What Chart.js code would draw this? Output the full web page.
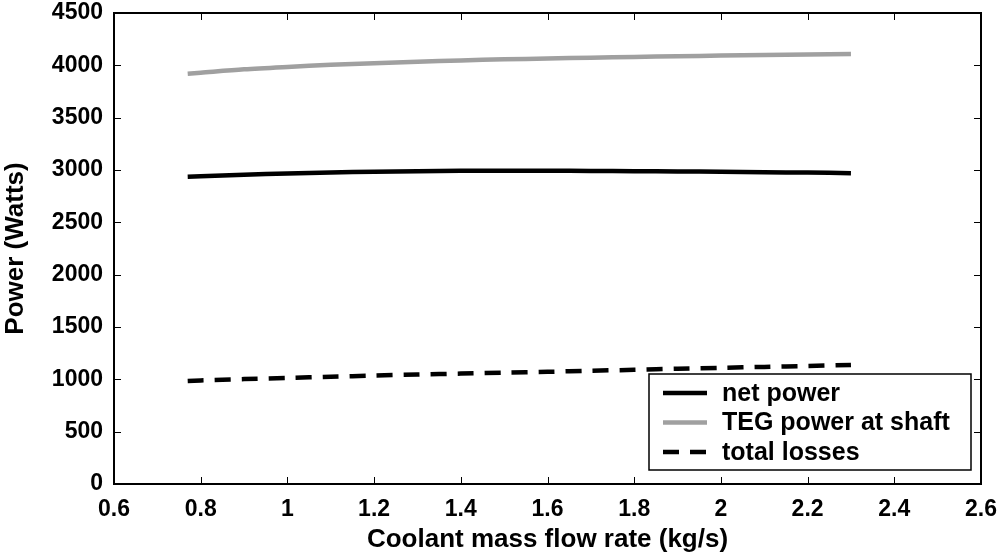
<!DOCTYPE html>
<html>
<head>
<meta charset="utf-8">
<script src="https://cdn.jsdelivr.net/npm/chart.js@4.4.1/dist/chart.umd.min.js"></script>
<style>
  html, body { margin: 0; padding: 0; background: #fff; }
  #wrap { width: 1007px; height: 556px; }
</style>
</head>
<body>
<div id="wrap"><canvas id="powerChart" width="1007" height="556"></canvas></div>
<script>
// Coolant mass flow rate (kg/s)
const flowRate = [0.77, 0.8, 0.9, 1.0, 1.1, 1.2, 1.3, 1.4, 1.5, 1.6, 1.7, 1.8, 1.9, 2.0, 2.1, 2.2, 2.3];
// Power series (W)
const tegPower = [3920, 3930, 3962, 3985, 4005, 4020, 4035, 4047, 4057, 4065, 4073, 4080, 4087, 4093, 4098, 4103, 4108];
const netPower = [2935, 2940, 2955, 2967, 2977, 2984, 2989, 2992, 2993, 2993, 2991, 2989, 2986, 2983, 2979, 2975, 2970];
const totalLosses = [985, 990, 1002, 1013, 1025, 1036, 1046, 1055, 1064, 1072, 1082, 1091, 1101, 1110, 1119, 1128, 1138];

const xTicks = [0.6, 0.8, 1, 1.2, 1.4, 1.6, 1.8, 2, 2.2, 2.4, 2.6];
const yTicks = [0, 500, 1000, 1500, 2000, 2500, 3000, 3500, 4000, 4500];

const FONT = "Liberation Sans, Arial, Helvetica, sans-serif";

const toPoints = (ys) => flowRate.map((x, i) => ({ x: x, y: ys[i] }));

const series = [
    { label: "net power", data: netPower, color: "#000000", dash: [] },
    { label: "TEG power at shaft", data: tegPower, color: "#a0a0a0", dash: [] },
    { label: "total losses", data: totalLosses, color: "#000000", dash: [16, 11] },
];

// frame, inward ticks on all four sides and the boxed legend
const framePlugin = {
    id: "frame",
    afterDraw(chart) {
        const { ctx, chartArea: a, scales } = chart;
        ctx.save();
        ctx.strokeStyle = "#000";
        ctx.lineWidth = 1;
        const tl = 7;
        xTicks.forEach((v) => {
            const px = Math.round(scales.x.getPixelForValue(v)) + 0.5;
            ctx.beginPath();
            ctx.moveTo(px, a.bottom); ctx.lineTo(px, a.bottom - tl);
            ctx.moveTo(px, a.top); ctx.lineTo(px, a.top + tl);
            ctx.stroke();
        });
        yTicks.forEach((v) => {
            const py = Math.round(scales.y.getPixelForValue(v)) + 0.5;
            ctx.beginPath();
            ctx.moveTo(a.left, py); ctx.lineTo(a.left + tl, py);
            ctx.moveTo(a.right, py); ctx.lineTo(a.right - tl, py);
            ctx.stroke();
        });
        ctx.lineWidth = 2;
        ctx.strokeRect(a.left, a.top, a.right - a.left, a.bottom - a.top);

        // legend box
        const bx = 649, by = 374, bw = 322, bh = 96;
        ctx.fillStyle = "#fff";
        ctx.fillRect(bx, by, bw, bh);
        ctx.lineWidth = 1.5;
        ctx.strokeStyle = "#000";
        ctx.strokeRect(bx, by, bw, bh);
        ctx.font = "bold 25px " + FONT;
        ctx.textBaseline = "middle";
        series.forEach((s, i) => {
            const yy = by + 19 + i * 29.5;
            ctx.strokeStyle = s.color;
            ctx.lineWidth = 4.5;
            ctx.setLineDash(s.dash);
            ctx.beginPath();
            ctx.moveTo(663, yy); ctx.lineTo(707, yy);
            ctx.stroke();
            ctx.setLineDash([]);
            ctx.fillStyle = "#000";
            ctx.fillText(s.label, 722, yy + 1);
        });
        ctx.restore();
    },
};

// spacer tick marks (transparent) keep the labels clear of the frame
const spacerGrid = (len) => ({
    display: true,
    drawOnChartArea: false,
    drawTicks: true,
    tickLength: len,
    color: "rgba(0,0,0,0)",
});

new Chart(document.getElementById("powerChart").getContext("2d"), {
    type: "scatter",
    data: {
        datasets: series.map((s) => ({
            label: s.label,
            data: toPoints(s.data),
            showLine: true,
            borderColor: s.color,
            borderWidth: 4.5,
            borderDash: s.dash,
            pointRadius: 0,
            tension: 0.3,
            fill: false,
        })),
    },
    options: {
        responsive: false,
        animation: false,
        layout: { padding: { left: 0, top: 13, right: 26, bottom: 0 } },
        plugins: {
            legend: { display: false },
            tooltip: { enabled: false },
        },
        scales: {
            x: {
                type: "linear",
                min: 0.6,
                max: 2.6,
                afterBuildTicks: (scale) => { scale.ticks = xTicks.map((v) => ({ value: v })); },
                afterFit: (scale) => { scale.height = 72; },
                grid: spacerGrid(12),
                border: { display: false },
                ticks: {
                    color: "#000",
                    padding: 0,
                    maxRotation: 0,
                    font: { family: FONT, size: 23, weight: "bold" },
                    callback: (v) => String(Math.round(v * 10) / 10),
                },
                title: {
                    display: true,
                    text: "Coolant mass flow rate (kg/s)",
                    color: "#000",
                    padding: { top: 0, bottom: 1 },
                    font: { family: FONT, size: 26, weight: "bold" },
                },
            },
            y: {
                min: 0,
                max: 4500,
                afterBuildTicks: (scale) => { scale.ticks = yTicks.map((v) => ({ value: v })); },
                afterFit: (scale) => { scale.width = 114; },
                grid: spacerGrid(11),
                border: { display: false },
                ticks: {
                    color: "#000",
                    padding: 0,
                    font: { family: FONT, size: 23, weight: "bold", lineHeight: 0.9 },
                    callback: (v) => String(v),
                },
                title: {
                    display: true,
                    text: "Power (Watts)",
                    color: "#000",
                    padding: { top: 0, bottom: 0 },
                    font: { family: FONT, size: 26, weight: "bold" },
                },
            },
        },
    },
    plugins: [framePlugin],
});
</script>
</body>
</html>
